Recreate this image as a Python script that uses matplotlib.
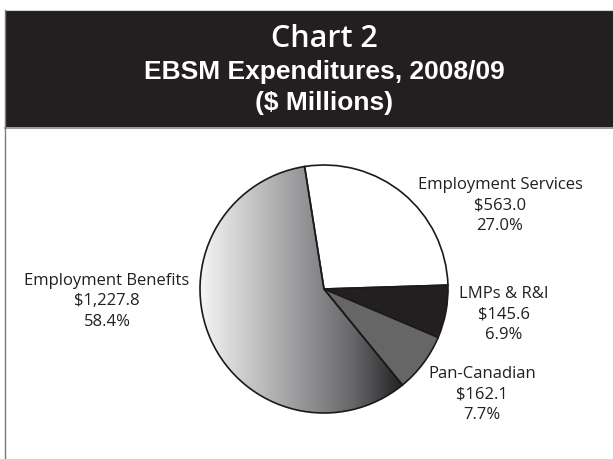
import numpy as np
import matplotlib
matplotlib.use("Agg")
import matplotlib.pyplot as plt
from matplotlib.colors import LinearSegmentedColormap
from matplotlib.patches import Rectangle

# EBSM expenditures 2008/09
categories = ["Employment Services", "LMPs & R&I", "Pan-Canadian", "Employment Benefits"]
dollars = [563.0, 145.6, 162.1, 1227.8]
percents = [27.0, 6.9, 7.7, 58.4]

title_lines = ["Chart 2", "EBSM Expenditures, 2008/09", "($ Millions)"]

W, H = 613, 459
fig = plt.figure(figsize=(W / 100, H / 100), dpi=100)
ax = fig.add_axes([0, 0, 1, 1])

def Y(y):
    # pixel rows are measured from the top
    return H - y

# pie geometry in pixel units
cx, cy, r = 324, 289, 124

fills = ["white", "#231f20", "#666666", "none"]
wedges, _ = ax.pie(
    percents, startangle=99, counterclock=False, colors=fills,
    center=(cx, Y(cy)), radius=r, frame=False,
    wedgeprops=dict(edgecolor="#1a1a1a", linewidth=1.2),
)

# shaded fill for the largest slice
grad = LinearSegmentedColormap.from_list(
    "shade", [(0.0, "#f5f5f5"), (0.45, "#a0a0a2"), (0.75, "#67676a"), (1.0, "#231f20")])
xs = np.linspace(0, 1, 256)[None, :]
img = ax.imshow(np.repeat(xs, 2, axis=0), cmap=grad, aspect="auto",
                extent=(cx - r, cx + 80, Y(cy + r), Y(cy - r)), zorder=0.5,
                interpolation="bilinear")
img.set_clip_path(wedges[3])
wedges[3].set_zorder(1)

ax.set_xlim(0, W)
ax.set_ylim(0, H)
ax.set_aspect("auto")
ax.axis("off")

# header band and frame
ax.add_patch(Rectangle((5, Y(127)), W - 5, 117, facecolor="#231f20",
                       edgecolor="none", zorder=2))
ax.plot([5, W], [Y(127.5), Y(127.5)], color="#8a8a8a", lw=1.2, zorder=3)
ax.plot([5, W], [Y(9.5), Y(9.5)], color="#d0d0d0", lw=0.8, zorder=3)
ax.plot([5, 5], [Y(10), 0], color="#7a7a7a", lw=1.0, zorder=3)

ax.text(324, Y(47), title_lines[0], color="white", ha="center", va="baseline",
        fontsize=22, family="Open Sans", fontweight="semibold", zorder=4)
ax.text(324, Y(79), title_lines[1], color="white", ha="center", va="baseline",
        fontsize=19, family="Liberation Sans", fontweight="bold", zorder=4)
ax.text(324, Y(110), title_lines[2], color="white", ha="center", va="baseline",
        fontsize=19, family="Liberation Sans", fontweight="bold", zorder=4)

# slice labels: name, dollar amount, share
label_pos = [(500, 189), (504, 298), (482, 378), (107, 285)]
for name, d, p, (lx, ly) in zip(categories, dollars, percents, label_pos):
    lines = [name, f"${d:,.1f}", f"{p:.1f}%"]
    for i, s in enumerate(lines):
        ax.text(lx, Y(ly + i * 20.3), s, ha="center", va="baseline",
                fontsize=12, family="Open Sans", color="#231f20", zorder=4)

fig.savefig("out.png", dpi=100, facecolor="white")
